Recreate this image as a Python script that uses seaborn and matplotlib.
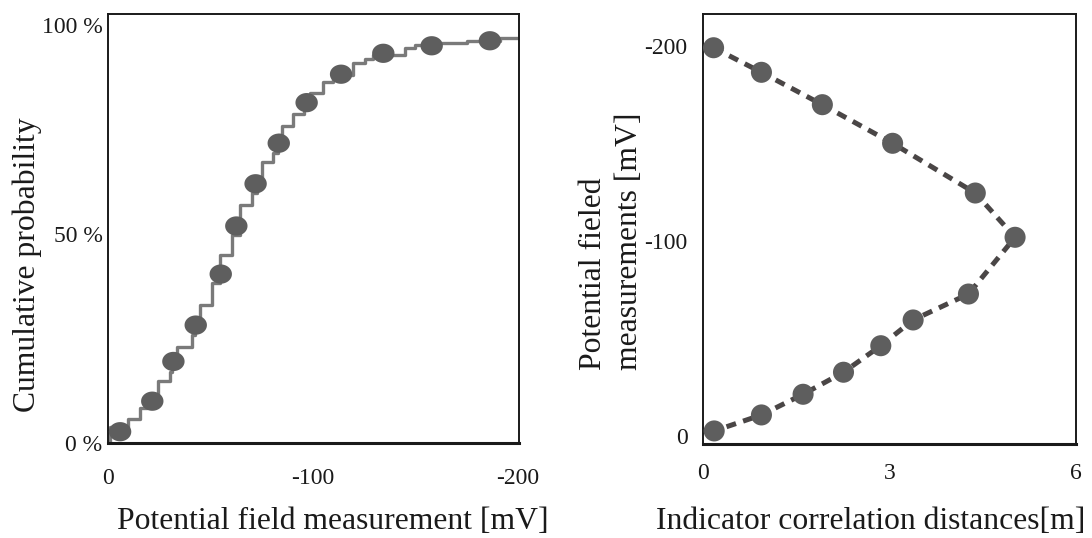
import numpy as np
import pandas as pd
import matplotlib
matplotlib.use("Agg")
import matplotlib.pyplot as plt
from matplotlib.path import Path
import seaborn as sns

# ---- Left panel data: cumulative probability of potential field ----
cdf_marker_mv = [-5.9, -21.6, -31.9, -42.8, -55.0, -62.6, -72.0, -83.3, -96.9,
                 -113.7, -134.3, -157.9, -186.3]
cdf_marker_pct = [2.7, 10.0, 19.5, 28.2, 40.4, 51.9, 62.0, 71.7, 81.4,
                  88.2, 93.2, 95.0, 96.2]
step_mv = [0.0, -1.0, -9.9, -15.6, -18.9, -24.5, -30.2, -31.1, -33.8, -40.8,
           -42.4, -44.9, -50.6, -54.6, -60.3, -64.4, -70.1, -72.5, -75.0,
           -80.6, -83.1, -85.0, -90.1, -95.6, -98.5, -104.7, -109.9, -119.7,
           -125.4, -129.4, -144.9, -149.8, -155.5, -175.0, -191.2, -201.3]
step_pct = [0.0, 3.9, 5.7, 8.3, 10.3, 14.9, 17.1, 19.9, 23.0, 25.8, 28.6,
            33.0, 38.2, 45.0, 49.8, 56.9, 59.7, 63.7, 67.3, 69.3, 73.7, 75.7,
            78.7, 80.5, 83.7, 86.4, 88.0, 90.8, 91.8, 92.8, 94.4, 95.2, 95.6,
            96.2, 96.8, 96.8]
left_xticks = [0, -100, -200]
left_xticklabels = ["0", "-100", "-200"]
left_yticks = [0, 50, 100]
left_yticklabels = ["0 %", "50 %", "100 %"]

# ---- Right panel data: indicator correlation distances ----
corr_dist_m = [0.17, 0.94, 1.92, 3.05, 4.38, 5.02, 4.27, 3.38, 2.86, 2.26,
               1.61, 0.94, 0.18]
corr_mv = [-199.1, -186.5, -169.9, -150.1, -124.6, -101.9, -72.8, -59.5,
           -46.3, -32.7, -21.4, -10.8, -2.6]
right_xticks = [0, 3, 6]
right_yticks = [0, -100, -200]
right_yticklabels = ["0", "-100", "-200"]

sns.set_theme(style="white")
plt.rcParams["font.family"] = ["Liberation Serif", "DejaVu Serif"]

fig = plt.figure(figsize=(10.92, 5.38), dpi=100)
ax1 = fig.add_axes([108 / 1092, (538 - 443) / 538, 411 / 1092, 429 / 538])
ax2 = fig.add_axes([703 / 1092, (538 - 444) / 538, 373 / 1092, 430 / 538])

# ellipse marker
t = np.linspace(0, 2 * np.pi, 60)
ell = Path(np.column_stack([np.cos(t), 0.86 * np.sin(t)]), closed=True)

LABEL_FS = 22.8
TICK_FS = 17

step_df = pd.DataFrame({"mv": step_mv, "pct": step_pct})
mk_df = pd.DataFrame({"mv": cdf_marker_mv, "pct": cdf_marker_pct})
sns.lineplot(data=step_df, x="mv", y="pct", ax=ax1, sort=False, estimator=None,
             drawstyle="steps-post", color="#7a7a7a", linewidth=2.4, zorder=2)
sns.scatterplot(data=mk_df, x="mv", y="pct", ax=ax1, marker=ell, s=260,
                color="#5e5e5e", edgecolor="none", zorder=3)
ax1.set_xlim(0, -200.5)
ax1.set_ylim(0, 102.6)
ax1.set_xticks(left_xticks)
ax1.set_xticklabels(left_xticklabels)
ax1.set_yticks(left_yticks)
ax1.set_yticklabels(left_yticklabels)
ax1.tick_params(axis="x", length=0, pad=18, labelsize=TICK_FS, colors="#1a1a1a")
ax1.tick_params(axis="y", length=0, pad=4, labelsize=TICK_FS, colors="#1a1a1a")
ax1.set_xlabel("Potential field measurement [mV]", fontsize=LABEL_FS,
               va="center", ha="center", color="#1a1a1a")
ax1.set_ylabel("Cumulative probability", fontsize=LABEL_FS,
               va="center", ha="center", color="#1a1a1a")
ax1.xaxis.set_label_coords(0.547, -0.184)
ax1.yaxis.set_label_coords(-0.197, 0.415)

corr_df = pd.DataFrame({"d": corr_dist_m, "mv": corr_mv})
sns.lineplot(data=corr_df, x="d", y="mv", ax=ax2, sort=False, estimator=None,
             color="#4a4646", linewidth=3.6, dashes=False, zorder=2)
ax2.lines[0].set_dashes([2.0, 1.5])
sns.scatterplot(data=corr_df, x="d", y="mv", ax=ax2, marker="o", s=230,
                color="#5e5e5e", edgecolor="none", zorder=3)
ax2.set_xlim(0, 6)
ax2.set_ylim(4.1, -216.4)
ax2.set_xticks(right_xticks)
ax2.set_xticklabels([str(v) for v in right_xticks])
ax2.set_yticks(right_yticks)
ax2.set_yticklabels(right_yticklabels)
ax2.tick_params(axis="x", length=0, pad=14, labelsize=TICK_FS, colors="#1a1a1a")
ax2.tick_params(axis="y", length=0, pad=11, labelsize=TICK_FS, colors="#1a1a1a")
ax2.set_xlabel("Indicator correlation distances[m]", fontsize=LABEL_FS,
               va="center", ha="center", color="#1a1a1a")
ax2.set_ylabel("Potential fieled\nmeasurements [mV]", fontsize=LABEL_FS,
               va="center", ha="center", multialignment="left",
               color="#1a1a1a", linespacing=1.3)
ax2.xaxis.set_label_coords(0.45, -0.181)
ax2.yaxis.set_label_coords(-0.245, 0.472)

for ax in (ax1, ax2):
    for side, sp in ax.spines.items():
        sp.set_visible(True)
        sp.set_color("#1a1a1a")
        sp.set_linewidth(2.2 if side == "bottom" else 1.4)
    ax.grid(False)

fig.savefig("out.png", dpi=100)
